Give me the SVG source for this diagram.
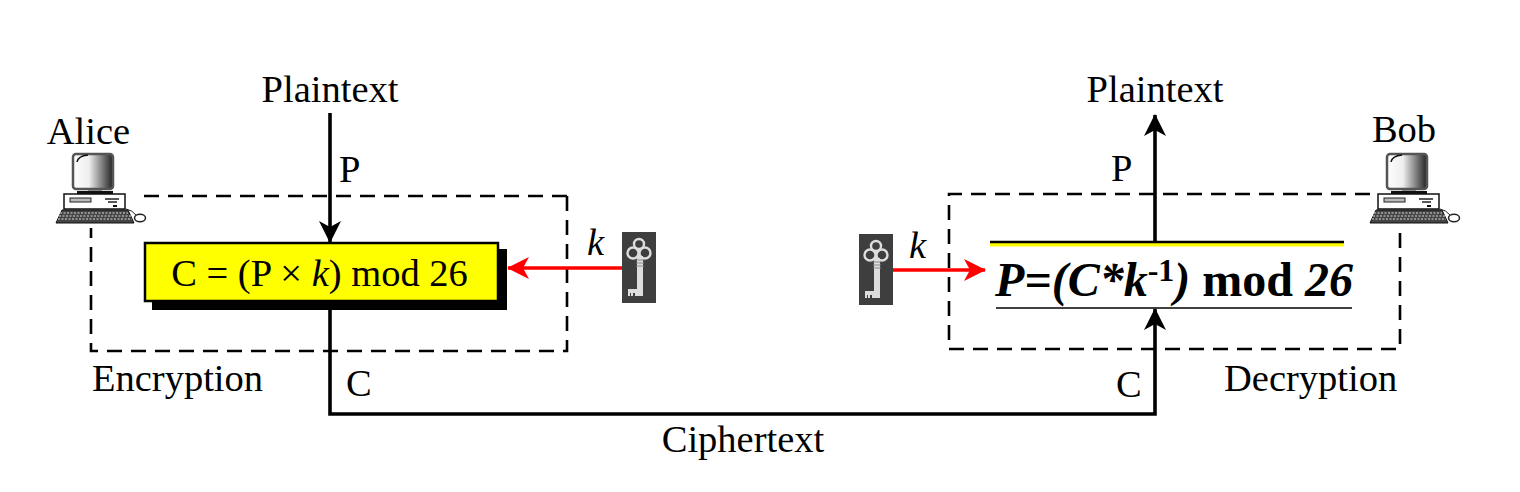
<svg xmlns="http://www.w3.org/2000/svg" width="1520" height="492" viewBox="0 0 1520 492">
<style>
text{font-family:"Liberation Serif","Times New Roman",serif;font-size:38.5px;fill:#000}
.m{text-anchor:middle}
.ln{fill:none;stroke:#000;stroke-width:3.6}
.red{fill:none;stroke:#f00;stroke-width:3.6}
.dash{fill:none;stroke:#000;stroke-width:2.6;stroke-dasharray:15 9}
</style>
<defs>
<linearGradient id="scr" x1="0" x2="1" y1="0" y2="0"><stop offset="0" stop-color="#fff"/><stop offset=".4" stop-color="#eee"/><stop offset="1" stop-color="#222"/></linearGradient>
<marker id="ab" markerUnits="userSpaceOnUse" markerWidth="24" markerHeight="24" refX="21" refY="11" orient="auto"><path d="M0,0 L22,11 L0,22 L6,11Z" fill="#000"/></marker>
<marker id="ar" markerUnits="userSpaceOnUse" markerWidth="24" markerHeight="24" refX="21" refY="11" orient="auto"><path d="M0,0 L22,11 L0,22 L6,11Z" fill="#f00"/></marker>
<symbol id="pc" overflow="visible">
<rect x="6" y="42" width="88" height="34" fill="#fff"/>
<rect x="23" y="4" width="40" height="35" rx="3" fill="url(#scr)" stroke="#555" stroke-width="2.5"/>
<path d="M27,12 Q28,6 38,5" fill="none" stroke="#111" stroke-width="1.5"/>
<rect x="38" y="40" width="14" height="3" fill="#888"/>
<rect x="27" y="41" width="36" height="3.5" fill="#111"/>
<rect x="14" y="44" width="61" height="15" fill="#fff" stroke="#111" stroke-width="1.5"/>
<rect x="20" y="48" width="21" height="4" fill="#bbb" stroke="#222"/>
<path d="M55,49h14M58,52h9" stroke="#222" stroke-width="1.5"/>
<rect x="63" y="55" width="4" height="2" fill="#111"/>
<path d="M12,60H78L84,73H6Z" fill="#444" stroke="#111"/>
<path d="M10,63H78M9,66H81M8,69H82" stroke="#ddd" stroke-width="1" stroke-dasharray="2 1.5"/>
<ellipse cx="90" cy="68" rx="5.5" ry="3.8" fill="#fff" stroke="#222" stroke-width="1.5"/>
<path d="M76,59Q82,60 86,65" fill="none" stroke="#222"/>
</symbol>
<symbol id="key" overflow="visible">
<rect x="0" y="0" width="34" height="71" fill="#3e3e3e"/>
<g fill="none" stroke="#ddd" stroke-width="2.4">
<circle cx="17" cy="12" r="5"/><circle cx="11" cy="21" r="5.5"/><circle cx="23" cy="21" r="5.5"/>
</g>
<rect x="15" y="24" width="6" height="40" fill="#ddd"/>
<path d="M14,28h8M14,31h8M14,34h8" stroke="#888"/>
<path d="M6,57h9v7h-2v-3h-2v3h-2v-3h-1v3h-2Z" fill="#ddd"/>
</symbol>
</defs>
<rect width="1520" height="492" fill="#fff"/>
<g id="connectors">
<path class="dash" d="M567,196H140M567,196V351H91V228"/>
<path class="dash" d="M1370,194H949V349H1400V228"/>
<path class="ln" d="M330,113V242" marker-end="url(#ab)"/>
<path class="ln" d="M330,309V414H1155V309" marker-end="url(#ab)"/>
<path class="ln" d="M1155,241V115" marker-end="url(#ab)"/>
<path class="red" d="M622,268H508" marker-end="url(#ar)"/>
<path class="red" d="M893,270H985" marker-end="url(#ar)"/>
</g>
<g id="alice"><use href="#pc" x="50" y="150"/><text class="m" x="88.500" y="144">Alice</text></g>
<g id="bob"><use href="#pc" x="1364" y="150"/><text class="m" x="1404" y="142">Bob</text></g>
<g id="encrypt-box">
<rect x="152" y="249" width="355" height="61" fill="#000"/>
<rect x="145" y="243" width="353" height="58" fill="#ff0" stroke="#000" stroke-width="2.5"/>
<text class="m" x="319.500" y="286">C = (P × <tspan font-style="italic">k</tspan>) mod 26</text>
</g>
<g id="decrypt-box">
<rect x="990" y="243" width="354" height="3.5" fill="#ff0"/>
<path d="M990,242H1344" stroke="#000" stroke-width="2.5"/>
<path d="M996,308H1352" stroke="#000" stroke-width="1.5"/>
<text x="995" y="296" style="font-size:48px;font-weight:bold;font-style:italic">P=(C*k<tspan dy="-15" font-size="32" font-style="normal">-1</tspan><tspan dy="15">)</tspan><tspan font-style="normal"> mod </tspan>26</text>
</g>
<g id="key-left"><use href="#key" x="622" y="232"/><text x="587" y="255" font-style="italic">k</text></g>
<g id="key-right"><use href="#key" x="859" y="234"/><text x="909" y="258" font-style="italic">k</text></g>
<g id="labels">
<text class="m" x="330" y="102">Plaintext</text>
<text class="m" x="1155" y="102">Plaintext</text>
<text x="339" y="182">P</text>
<text x="1111" y="181">P</text>
<text x="346" y="396">C</text>
<text x="1116" y="397">C</text>
<text x="92" y="391">Encryption</text>
<text x="1224" y="391">Decryption</text>
<text class="m" x="743" y="452">Ciphertext</text>
</g>
</svg>
